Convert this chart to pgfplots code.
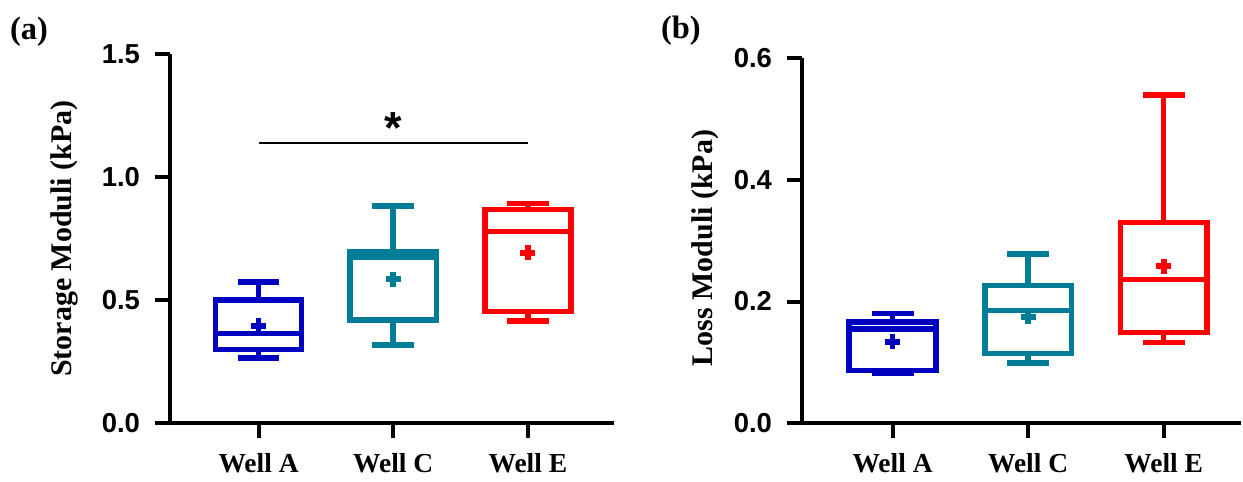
\documentclass[border=0pt]{standalone}
\usepackage{pgfplots}
\pgfplotsset{compat=1.18}
\usepgfplotslibrary{statistics}
\usepackage{fontspec}
\setmainfont{Liberation Serif}
\newfontfamily\arialf{Liberation Sans}
\definecolor{cblue}{RGB}{0,0,192}
\definecolor{cteal}{RGB}{0,125,150}
\definecolor{cred}{RGB}{255,0,0}
\pgfplotsset{
  myaxis/.style={
    scale only axis,
    boxplot/draw direction=y,
    axis x line=bottom, axis y line=left,
    axis line style={-, line width=1.6pt},
    tick style={line width=1.6pt, black},
    major tick length=6pt,
    tick align=outside,
    xtick={0,1,2},
    xticklabels={Well A, Well C, Well E},
    xticklabel style={font=\fontsize{11}{13}\selectfont\bfseries, yshift=-2.6pt},
    yticklabel style={font=\arialf\fontsize{11}{13}\selectfont\bfseries, xshift=-2.4pt},
    /pgf/number format/assume math mode=true,
    /pgf/number format/fixed, /pgf/number format/fixed zerofill, /pgf/number format/precision=1,
    ylabel style={font=\fontsize{12}{14}\selectfont\bfseries, anchor=center},
    clip=false,
  },
  mybox/.style={line width=2.2pt, solid},
  mymean/.style={only marks, mark=+, mark size=3pt, line width=2.3pt},
}
\begin{document}
\begin{tikzpicture}
\path (0,0) rectangle (497.2pt,190.8pt);
\node[font=\fontsize{13}{15}\selectfont\bfseries] at (11.6pt,178pt) {(a)};
\node[font=\fontsize{13}{15}\selectfont\bfseries] at (272.8pt,178.4pt) {(b)};
% Panel (a)
\begin{axis}[myaxis,
  at={(68pt,21.2pt)}, anchor=south west,
  width=178pt, height=148pt,
  xmin=-0.66, xmax=2.64,
  ymin=0, ymax=1.5, ytick={0,0.5,1.0,1.5},
  ylabel={Storage Moduli (kPa)},
  ylabel style={at={(axis description cs:-0.238,0.5)}},
]
\addplot[mybox, draw=cblue, boxplot prepared={draw position=0, lower whisker=0.265, lower quartile=0.30, median=0.365, upper quartile=0.50, upper whisker=0.574, box extend=0.64, whisker extend=0.31}] coordinates {};
\addplot[mybox, draw=cteal, boxplot prepared={draw position=1, lower whisker=0.318, lower quartile=0.42, median=0.676, upper quartile=0.697, upper whisker=0.882, box extend=0.64, whisker extend=0.31}] coordinates {};
\addplot[mybox, draw=cred, boxplot prepared={draw position=2, lower whisker=0.416, lower quartile=0.454, median=0.778, upper quartile=0.869, upper whisker=0.893, box extend=0.64, whisker extend=0.31}] coordinates {};
\addplot[mymean, cblue] coordinates {(0,0.396)};
\addplot[mymean, cteal] coordinates {(1,0.585)};
\addplot[mymean, cred] coordinates {(2,0.693)};
\addplot[black, line width=0.6pt] coordinates {(0,1.139) (2,1.139)};
\node[font=\arialf\fontsize{18}{20}\selectfont\bfseries, anchor=base] at (axis cs:1,1.135) {*};
\end{axis}
% Panel (b)
\begin{axis}[myaxis,
  at={(321.2pt,21.2pt)}, anchor=south west,
  width=176pt, height=146.4pt,
  xmin=-0.67, xmax=2.57,
  ymin=0, ymax=0.6, ytick={0,0.2,0.4,0.6},
  ylabel={Loss Moduli (kPa)},
  ylabel style={at={(axis description cs:-0.22,0.48)}},
]
\addplot[mybox, draw=cblue, boxplot prepared={draw position=0, lower whisker=0.082, lower quartile=0.087, median=0.155, upper quartile=0.166, upper whisker=0.180, box extend=0.64, whisker extend=0.31}] coordinates {};
\addplot[mymean, cteal] coordinates {(1,0.175)};
\addplot[mybox, draw=cteal, boxplot prepared={draw position=1, lower whisker=0.099, lower quartile=0.115, median=0.185, upper quartile=0.226, upper whisker=0.278, box extend=0.64, whisker extend=0.31}] coordinates {};
\addplot[mybox, draw=cred, boxplot prepared={draw position=2, lower whisker=0.133, lower quartile=0.149, median=0.236, upper quartile=0.330, upper whisker=0.539, box extend=0.64, whisker extend=0.31}] coordinates {};
\addplot[mymean, cblue] coordinates {(0,0.134)};
\addplot[mymean, cred] coordinates {(2,0.258)};
\end{axis}
\end{tikzpicture}
\end{document}
